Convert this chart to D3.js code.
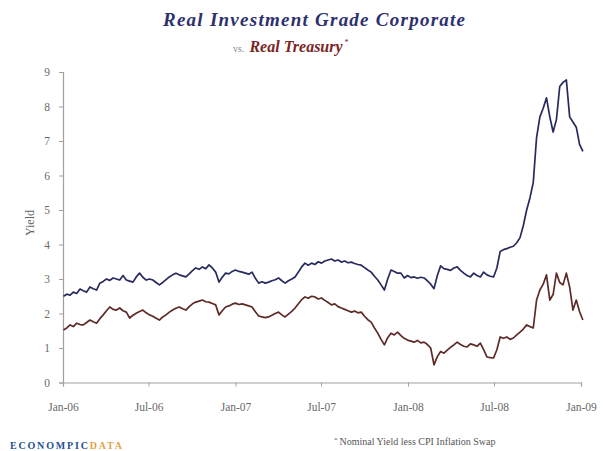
<!DOCTYPE html>
<html><head><meta charset="utf-8">
<script src="https://cdn.jsdelivr.net/npm/d3@7"></script>
<style>
html,body{margin:0;padding:0;background:#fff;}
svg{display:block;}
</style></head>
<body>
<svg id="chart" width="603" height="451"></svg>
<script>
// ---- data (weekly, starting first week of Jan 2006) ----
const startDate = "2006-01-02";
const corporate = [
2.50,2.56,2.53,2.62,2.58,2.71,2.66,2.62,2.77,2.72,2.68,2.88,2.93,3.00,2.96,3.03,3.00,2.97,3.10,2.97,
2.94,2.91,3.06,3.17,3.05,2.97,3.00,2.97,2.90,2.83,2.90,2.98,3.06,3.12,3.17,3.12,3.09,3.06,3.15,3.24,
3.32,3.28,3.35,3.30,3.41,3.32,3.20,2.91,3.05,3.17,3.15,3.22,3.26,3.22,3.20,3.17,3.14,3.20,3.02,2.88,
2.92,2.88,2.91,2.95,2.98,3.03,2.95,2.88,2.95,3.00,3.06,3.20,3.35,3.46,3.40,3.46,3.42,3.50,3.46,3.52,
3.55,3.58,3.52,3.55,3.49,3.52,3.47,3.49,3.45,3.42,3.40,3.33,3.26,3.20,3.08,2.97,2.83,2.68,3.00,3.26,
3.22,3.17,3.17,3.03,3.10,3.04,3.06,3.02,3.05,3.03,2.95,2.85,2.72,3.10,3.38,3.30,3.28,3.25,3.32,3.35,
3.25,3.17,3.10,3.06,3.17,3.10,3.06,3.20,3.12,3.08,3.06,3.32,3.80,3.85,3.88,3.92,3.95,4.05,4.20,4.55,
5.00,5.35,5.80,7.10,7.70,7.95,8.25,7.70,7.26,7.62,8.58,8.70,8.77,7.70,7.55,7.40,6.90,6.70];
const treasury = [
1.52,1.58,1.67,1.62,1.72,1.68,1.67,1.74,1.81,1.76,1.72,1.85,1.96,2.08,2.19,2.12,2.10,2.16,2.08,2.04,
1.87,1.95,2.01,2.06,2.10,2.02,1.96,1.92,1.86,1.81,1.90,1.96,2.04,2.10,2.15,2.19,2.14,2.10,2.20,2.28,
2.33,2.36,2.39,2.34,2.33,2.29,2.25,1.96,2.08,2.19,2.22,2.27,2.30,2.26,2.28,2.25,2.22,2.19,2.05,1.93,
1.90,1.88,1.90,1.95,2.00,2.04,1.96,1.90,1.98,2.06,2.16,2.28,2.40,2.48,2.44,2.50,2.48,2.42,2.45,2.38,
2.32,2.25,2.28,2.20,2.16,2.12,2.08,2.04,2.07,2.02,2.04,1.92,1.82,1.75,1.58,1.43,1.25,1.09,1.30,1.43,
1.38,1.46,1.36,1.28,1.23,1.20,1.17,1.22,1.15,1.17,1.10,1.00,0.51,0.75,0.90,0.85,0.94,1.02,1.09,1.17,
1.10,1.05,1.03,1.12,1.09,1.05,1.14,0.95,0.74,0.72,0.71,0.95,1.32,1.28,1.32,1.25,1.29,1.38,1.46,1.55,
1.67,1.62,1.58,2.39,2.68,2.85,3.12,2.39,2.55,3.17,2.90,2.83,3.17,2.77,2.10,2.39,2.05,1.81];
const xTickLabels = ["Jan-06","Jul-06","Jan-07","Jul-07","Jan-08","Jul-08","Jan-09"];
const xTickDates = ["2006-01-01","2006-07-01","2007-01-01","2007-07-01","2008-01-01","2008-07-01","2009-01-01"];
const yTicks = [0,1,2,3,4,5,6,7,8,9];

// ---- build ----
const parse = d3.timeParse("%Y-%m-%d");
const t0 = parse(startDate);
const dates = corporate.map((_, i) => d3.timeDay.offset(t0, 7 * i));

const svg = d3.select("#chart");
const serif = "'Liberation Serif','Times New Roman',serif";

const x = d3.scaleTime().domain([parse("2006-01-01"), parse("2009-01-01")]).range([63, 581]);
const y = d3.scaleLinear().domain([0, 9]).range([382.5, 72]);

// title
const title = svg.append("g").attr("font-family", serif);
title.append("text").attr("x", 314).attr("y", 26).attr("text-anchor", "middle")
  .attr("font-size", 19).attr("font-weight", "bold").attr("font-style", "italic")
  .attr("fill", "#2e306e").attr("textLength", 302).attr("lengthAdjust", "spacing")
  .text("Real Investment Grade Corporate");
const t2 = title.append("text").attr("x", 233).attr("y", 52);
t2.append("tspan").attr("font-size", 10).attr("fill", "#888").text("vs.");
t2.append("tspan").attr("dx", 5).attr("font-size", 16).attr("font-weight", "bold")
  .attr("font-style", "italic").attr("fill", "#7a2626").text("Real Treasury");
t2.append("tspan").attr("dx", 2).attr("dy", -7).attr("font-size", 8).attr("fill", "#7a2626").text("*");

// axes
const gy = svg.append("g").attr("transform", "translate(63,0)")
  .call(d3.axisLeft(y).tickValues(yTicks).tickSize(4).tickPadding(9).tickFormat(d3.format("d")));
const gx = svg.append("g").attr("transform", "translate(0,382.5)")
  .call(d3.axisBottom(x).tickValues(xTickDates.map(parse)).tickSize(4).tickPadding(16)
    .tickFormat((d, i) => xTickLabels[i]));
[gx, gy].forEach(g => {
  g.select(".domain").attr("stroke", "#a0a0a0").attr("stroke-width", 1.2);
  g.selectAll(".tick line").attr("stroke", "#a0a0a0");
  g.selectAll(".tick text").attr("font-family", serif).attr("font-size", 11.5).attr("fill", "#6a6a6a");
});

svg.append("text").attr("transform", "translate(34,223) rotate(-90)").attr("text-anchor", "middle")
  .attr("font-family", serif).attr("font-size", 12).attr("fill", "#666").text("Yield");

// lines
const line = vals => d3.line().x((d, i) => x(dates[i])).y(d => y(d))(vals);
svg.append("path").attr("d", line(treasury)).attr("fill", "none")
  .attr("stroke", "#5e2a28").attr("stroke-width", 1.7).attr("stroke-linejoin", "round");
svg.append("path").attr("d", line(corporate)).attr("fill", "none")
  .attr("stroke", "#272a5e").attr("stroke-width", 1.7).attr("stroke-linejoin", "round");

// logo
const logo = svg.append("text").attr("x", 10).attr("y", 449).attr("font-family", serif)
  .attr("font-size", 10).attr("font-weight", "bold").attr("textLength", 112).attr("lengthAdjust", "spacing");
logo.append("tspan").attr("fill", "#24508f").text("ECONOMPIC");
logo.append("tspan").attr("fill", "#e3a24a").text("DATA");

// footnote
const fn = svg.append("text").attr("x", 334).attr("y", 445).attr("font-family", serif)
  .attr("font-size", 10).attr("fill", "#555");
fn.append("tspan").attr("font-size", 7).attr("dy", -3).text("*");
fn.append("tspan").attr("dy", 3).attr("dx", 2).text("Nominal Yield less CPI Inflation Swap");
</script>
</body></html>
